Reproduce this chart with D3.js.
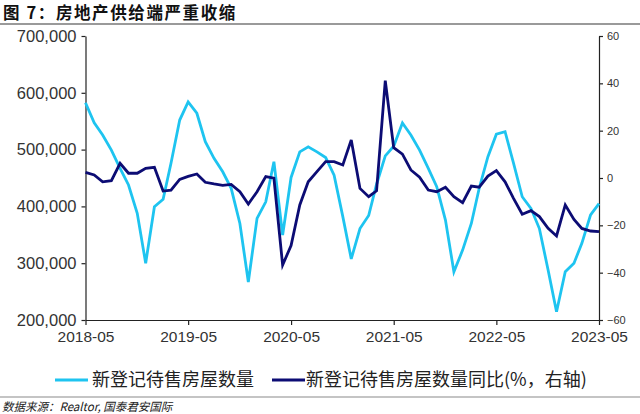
<!DOCTYPE html>
<html><head><meta charset="utf-8">
<script src="https://cdn.jsdelivr.net/npm/d3@7"></script>
<style>
html,body{margin:0;padding:0;background:#fff;}
svg{display:block;}
</style>
</head><body>
<svg id="chart" width="640" height="414"></svg>
<script>
const titleText = "图 7：房地产供给端严重收缩";
const sourceText = "数据来源：Realtor, 国泰君安国际";
const seriesNames = ["新登记待售房屋数量", "新登记待售房屋数量同比(%，右轴)"];
const startMonth = new Date(2018, 4, 1);
const endMonth = new Date(2023, 4, 1);
const xTickLabels = ["2018-05", "2019-05", "2020-05", "2021-05", "2022-05", "2023-05"];
const leftTicks = [200000, 300000, 400000, 500000, 600000, 700000];
const rightTicks = [-60, -40, -20, 0, 20, 40, 60];
const inventory = [582600, 547000, 525700, 499000, 467000, 437700, 388000, 300000, 399500, 412500, 476000, 552000, 584000,
  564000, 514000, 484600, 461000, 431800, 370000, 267000, 379000, 408000, 478700, 349600, 451000,
  496000, 505000, 496000, 486000, 455000, 382000, 307500, 361000, 384000, 439000, 489000, 506000,
  547000, 525700, 499000, 467000, 434700, 376000, 285000, 323000, 370000, 432000, 487500, 527000,
  531500, 476000, 417000, 396600, 361000, 288000, 214600, 285000, 300000, 335000, 385000, 405000];
const yoy = [2.4, 1.3, -1.6, -1.1, 6.2, 2.0, 2.0, 4.1, 4.5, -5.5, -5.1, -0.6, 0.7,
  1.7, -1.8, -2.5, -3.1, -2.7, -5.8, -11.0, -5.8, 0.6, -0.1, -36.8, -28.5,
  -11.4, -1.6, 2.7, 6.9, 6.9, 5.5, 16.1, -4.4, -7.9, -5.4, 41.1, 12.8,
  10.1, 3.4, 0.3, -5.1, -5.8, -3.9, -7.9, -10.4, -3.4, -3.9, 0.8, 3.1,
  -1.6, -8.6, -15.3, -13.8, -16.3, -21.3, -24.5, -11.4, -17.5, -21.3, -22.4, -22.7];

const colors = ["#1ec4f0", "#0c0c74"];
const months = d3.timeMonth.range(startMonth, d3.timeMonth.offset(endMonth, 1));

const svg = d3.select("#chart");
const m = {left: 85.5, right: 599, top: 36, bottom: 320};

const x = d3.scaleTime().domain([startMonth, endMonth]).range([m.left, m.right]);
const yL = d3.scaleLinear().domain([200000, 700000]).range([m.bottom, m.top]);
const yR = d3.scaleLinear().domain([-60, 60]).range([m.bottom, m.top]);

// title
svg.append("text").attr("x", 3).attr("y", 19)
  .attr("font-family", "'Noto Sans CJK SC', sans-serif").attr("font-weight", "bold")
  .attr("font-size", 16.5).attr("letter-spacing", 1.6).attr("fill", "#111").text(titleText);
svg.append("line").attr("x1", 0).attr("x2", 640).attr("y1", 24).attr("y2", 24)
  .attr("stroke", "#9a9a9a").attr("stroke-width", 2);

const fontNum = "'Liberation Sans', Arial, sans-serif";

// left axis
const axL = svg.append("g").attr("transform", `translate(${m.left},0)`)
  .call(d3.axisLeft(yL).tickValues(leftTicks).tickSize(4).tickSizeOuter(0).tickPadding(5)
    .tickFormat(d3.format(",")));
axL.selectAll("text").attr("font-family", fontNum).attr("font-size", 16.5).attr("fill", "#333");
axL.selectAll("line,path").attr("stroke", "#222").attr("stroke-width", 1.2);

// right axis
const axR = svg.append("g").attr("transform", `translate(${m.right},0)`)
  .call(d3.axisRight(yR).tickValues(rightTicks).tickSize(4).tickSizeOuter(0).tickPadding(4));
axR.selectAll("text").attr("font-family", fontNum).attr("font-size", 11).attr("fill", "#333");
axR.selectAll("line,path").attr("stroke", "#222").attr("stroke-width", 1.2);

// x axis
const xTickDates = xTickLabels.map(s => d3.timeParse("%Y-%m")(s));
const axX = svg.append("g").attr("transform", `translate(0,${m.bottom})`)
  .call(d3.axisBottom(x).tickValues(xTickDates).tickSize(5).tickSizeOuter(0).tickPadding(6)
    .tickFormat((d, i) => xTickLabels[i]));
axX.selectAll("text").attr("font-family", fontNum).attr("font-size", 15.5).attr("fill", "#333");
axX.selectAll("line,path").attr("stroke", "#222").attr("stroke-width", 1.2);

// lines
const lineL = d3.line().x((d, i) => x(months[i])).y(d => yL(d));
const lineR = d3.line().x((d, i) => x(months[i])).y(d => yR(d));
svg.append("path").datum(inventory).attr("d", lineL).attr("fill", "none")
  .attr("stroke", colors[0]).attr("stroke-width", 2.8).attr("stroke-linejoin", "miter");
svg.append("path").datum(yoy).attr("d", lineR).attr("fill", "none")
  .attr("stroke", colors[1]).attr("stroke-width", 2.8).attr("stroke-linejoin", "miter");

// legend
const legItems = [{x: 55, tx: 92}, {x: 272, tx: 306}];
legItems.forEach((p, i) => {
  svg.append("line").attr("x1", p.x).attr("x2", p.x + 33).attr("y1", 380).attr("y2", 380)
    .attr("stroke", colors[i]).attr("stroke-width", 3);
  svg.append("text").attr("x", p.tx).attr("y", 386)
    .attr("font-family", "'Noto Sans CJK SC', sans-serif").attr("font-size", 18)
    .attr("fill", "#222").text(seriesNames[i]);
});

svg.append("line").attr("x1", 0).attr("x2", 640).attr("y1", 397).attr("y2", 397)
  .attr("stroke", "#8a8a8a").attr("stroke-width", 1.2);
svg.append("text").attr("x", 2).attr("y", 411)
  .attr("font-family", "'Noto Sans CJK SC', sans-serif").attr("font-style", "italic")
  .attr("font-size", 11.5).attr("fill", "#222").text(sourceText);
</script>
</body></html>
